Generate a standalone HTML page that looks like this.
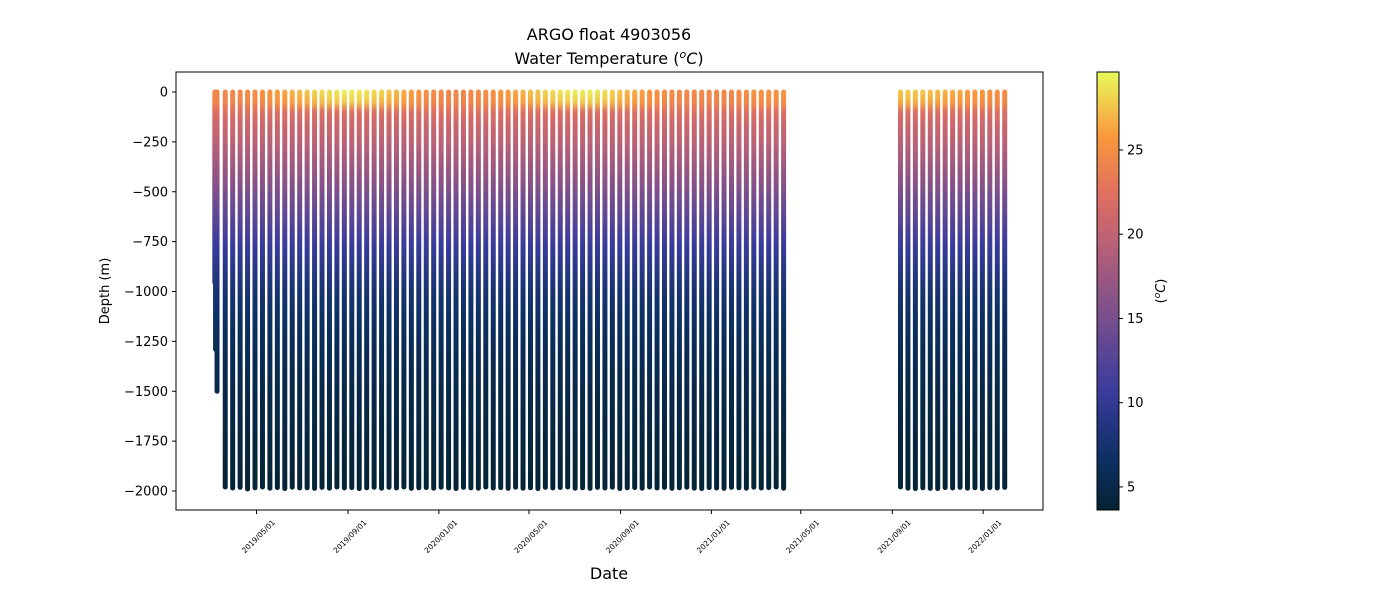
<!DOCTYPE html>
<html><head><meta charset="utf-8"><style>
html,body{margin:0;padding:0;background:#fff;}
svg{display:block;font-family:"DejaVu Sans","Liberation Sans",sans-serif;}
</style></head><body>
<svg id="chart" width="1400" height="600" viewBox="0 0 1400 600">
<defs id="defs"></defs>
<text x="609" y="40" font-size="16" text-anchor="middle" fill="#000">ARGO float 4903056</text>
<text x="609" y="64" font-size="16" text-anchor="middle" fill="#000">Water Temperature (<tspan font-style="italic" baseline-shift="super" font-size="11">o</tspan><tspan font-style="italic">C</tspan>)</text>
<g id="marks"></g>
<rect x="176" y="72" width="867" height="438" fill="none" stroke="#000" stroke-width="1"/>
<g id="yaxis"></g>
<g id="xaxis"></g>
<text x="609" y="579" font-size="16" text-anchor="middle">Date</text>
<text transform="translate(109,291) rotate(-90)" font-size="13" text-anchor="middle">Depth (m)</text>
<rect x="1097" y="72" width="22" height="438" fill="url(#cbgrad)" stroke="#000" stroke-width="1"/>
<g id="cbaxis"></g>
<text transform="translate(1165,291) rotate(-90)" font-size="13" text-anchor="middle">(<tspan font-style="italic" baseline-shift="super" font-size="9">o</tspan><tspan font-style="italic">C</tspan>)</text>
</svg>
<script>
const profileDates = [
"2019-03-06","2019-03-07","2019-03-09",
"2019-03-20","2019-03-30","2019-04-09","2019-04-19","2019-04-29","2019-05-09","2019-05-19","2019-05-29","2019-06-08","2019-06-18",
"2019-06-28","2019-07-08","2019-07-18","2019-07-28","2019-08-07","2019-08-17","2019-08-27","2019-09-06","2019-09-16","2019-09-26",
"2019-10-06","2019-10-16","2019-10-26","2019-11-05","2019-11-15","2019-11-25","2019-12-05","2019-12-15","2019-12-25","2020-01-04",
"2020-01-14","2020-01-24","2020-02-03","2020-02-13","2020-02-23","2020-03-04","2020-03-14","2020-03-24","2020-04-03","2020-04-13",
"2020-04-23","2020-05-03","2020-05-13","2020-05-23","2020-06-02","2020-06-12","2020-06-22","2020-07-02","2020-07-12","2020-07-22",
"2020-08-01","2020-08-11","2020-08-21","2020-08-31","2020-09-10","2020-09-20","2020-09-30","2020-10-10","2020-10-20","2020-10-30",
"2020-11-09","2020-11-19","2020-11-29","2020-12-09","2020-12-19","2020-12-29","2021-01-08","2021-01-18","2021-01-28","2021-02-07",
"2021-02-17","2021-02-27","2021-03-09","2021-03-19","2021-03-29","2021-04-08",
"2021-09-12","2021-09-22","2021-10-02","2021-10-12","2021-10-22","2021-11-01","2021-11-11","2021-11-21","2021-12-01","2021-12-11",
"2021-12-21","2021-12-31","2022-01-10","2022-01-20","2022-01-30"];
const maxDepths = [
955,1290,1500,
1980,1985,1982,1990,1984,1980,1986,1983,1988,1981,
1985,1984,1987,1982,1986,1980,1985,1983,1988,1984,
1981,1986,1982,1985,1980,1987,1984,1983,1986,1981,
1985,1988,1982,1984,1986,1980,1985,1983,1987,1981,
1986,1984,1988,1982,1985,1983,1980,1986,1984,1987,
1982,1985,1981,1988,1984,1983,1986,1980,1985,1982,
1987,1984,1981,1986,1988,1983,1985,1987,1982,1984,
1986,1981,1985,1983,1980,1986,
1980,1986,1988,1984,1987,1988,1983,1985,1982,1986,
1984,1988,1983,1985,1982];
const surfaceTemps = [
24.5,24.5,24.5,
24.5,24.5,24.5,24.8,25,25.3,25.5,26,26.3,26.8,
27.2,27.5,28,28.3,28.5,28.8,29,29,28.8,28.6,
28.3,28,27.5,27,26.5,26,25.5,25,24.8,24.6,
24.5,24.5,24.5,24.6,24.8,25,25.3,25.6,26,26.3,
26.8,27.2,27.5,28,28.3,28.6,28.8,29,29,29,
28.8,28.5,28,27.5,27,26.5,26,25.6,25.3,25,
24.8,24.6,24.5,24.5,24.5,24.5,24.5,24.5,24.6,24.8,
25,25.2,25.4,25.5,25.5,25.5,
27.5,27.8,27.6,27.5,27.2,27,26.8,26.5,26.3,26,
25.8,25.5,25.3,25.2,25];
const yTicks = [0,-250,-500,-750,-1000,-1250,-1500,-1750,-2000];
const xTickLabels = ["2019/05/01","2019/09/01","2020/01/01","2020/05/01","2020/09/01","2021/01/01","2021/05/01","2021/09/01","2022/01/01"];
const cbTicks = [5,10,15,20,25];
const tMin = 3.63, tMax = 29.63;

const NS="http://www.w3.org/2000/svg";
const day0 = Date.UTC(2019,4,1);
function parseD(s){const p=s.split(/[-\/]/).map(Number);return Date.UTC(p[0],p[1]-1,p[2]);}
function xScale(s){return 256.5 + (parseD(s)-day0)/86400000*0.7445;}
function yScale(d){return 92 + (-d)*(399/2000);}
function cbY(t){return 510 - (t-tMin)/(tMax-tMin)*438;}
const stops=[[0,[4,35,51]],[0.12,[13,48,100]],[0.27,[58,60,157]],[0.42,[112,76,143]],[0.57,[171,92,125]],[0.72,[224,111,97]],[0.85,[250,150,60]],[1,[232,250,91]]];
function cmap(t){let f=Math.max(0,Math.min(1,(t-tMin)/(tMax-tMin)));
 for(let i=1;i<stops.length;i++){if(f<=stops[i][0]){const a=stops[i-1],b=stops[i],u=(f-a[0])/(b[0]-a[0]);
 return "rgb("+a[1].map((v,k)=>Math.round(v+(b[1][k]-v)*u)).join(",")+")";}}return "rgb(232,250,91)";}
const baseD=[100,150,250,500,750,1000,1250,1500,2000], baseT=[22.3,21.0,19.6,15.4,10.8,7.6,6.0,5.0,3.8];
function tempAt(d,sst){ if(d<=40) return sst; if(d<100){const u=(d-40)/60;return sst+(baseT[0]-sst)*u;}
 for(let i=1;i<baseD.length;i++){if(d<=baseD[i]){const u=(d-baseD[i-1])/(baseD[i]-baseD[i-1]);return baseT[i-1]+(baseT[i]-baseT[i-1])*u;}} return 3.8;}
const defs=document.getElementById('defs');
function mkGrad(id,y1,y2,fn,n){const g=document.createElementNS(NS,'linearGradient');g.setAttribute('id',id);
 g.setAttribute('gradientUnits','userSpaceOnUse');g.setAttribute('x1',0);g.setAttribute('x2',0);g.setAttribute('y1',y1);g.setAttribute('y2',y2);
 for(let i=0;i<=n;i++){const s=document.createElementNS(NS,'stop');s.setAttribute('offset',i/n);s.setAttribute('stop-color',fn(i/n));g.appendChild(s);}
 defs.appendChild(g);}
mkGrad('cbgrad',510,72,f=>cmap(tMin+f*(tMax-tMin)),40);
const marks=document.getElementById('marks');
profileDates.forEach((d,i)=>{
 const md=maxDepths[i], sst=surfaceTemps[i], x=xScale(d);
 mkGrad('pg'+i,yScale(0),yScale(-2000),f=>{const dep=f*2000;return cmap(tempAt(Math.min(dep,md),sst));},40);
 const l=document.createElementNS(NS,'line');
 l.setAttribute('x1',x);l.setAttribute('x2',x);l.setAttribute('y1',yScale(0));l.setAttribute('y2',yScale(-md));
 l.setAttribute('stroke','url(#pg'+i+')');l.setAttribute('stroke-width',5);l.setAttribute('stroke-linecap','round');
 
 
 marks.appendChild(l);
});
const ya=document.getElementById('yaxis');
yTicks.forEach(v=>{const y=yScale(v);
 const t=document.createElementNS(NS,'line');t.setAttribute('x1',172);t.setAttribute('x2',176);t.setAttribute('y1',y);t.setAttribute('y2',y);t.setAttribute('stroke','#000');
 
 ya.appendChild(t);
 const tx=document.createElementNS(NS,'text');tx.setAttribute('x',168);tx.setAttribute('y',y+4.5);tx.setAttribute('font-size','13');tx.setAttribute('text-anchor','end');
 tx.textContent=(v<0?'\u2212'+(-v):String(v));
 
 ya.appendChild(tx);});
const xa=document.getElementById('xaxis');
xTickLabels.forEach(s=>{const x=xScale(s);
 const t=document.createElementNS(NS,'line');t.setAttribute('x1',x);t.setAttribute('x2',x);t.setAttribute('y1',510);t.setAttribute('y2',514);t.setAttribute('stroke','#000');
 
 xa.appendChild(t);
 const tx=document.createElementNS(NS,'text');tx.setAttribute('transform','translate('+(x+19)+',523) rotate(-45)');tx.setAttribute('font-size','7.5');tx.setAttribute('text-anchor','end');
 tx.textContent=s;
 
 xa.appendChild(tx);});
const ca=document.getElementById('cbaxis');
cbTicks.forEach(v=>{const y=cbY(v);
 const t=document.createElementNS(NS,'line');t.setAttribute('x1',1119);t.setAttribute('x2',1123);t.setAttribute('y1',y);t.setAttribute('y2',y);t.setAttribute('stroke','#000');
 
 ca.appendChild(t);
 const tx=document.createElementNS(NS,'text');tx.setAttribute('x',1127);tx.setAttribute('y',y+4.5);tx.setAttribute('font-size','13');
 tx.textContent=String(v);
 
 ca.appendChild(tx);});
</script>
</body></html>
